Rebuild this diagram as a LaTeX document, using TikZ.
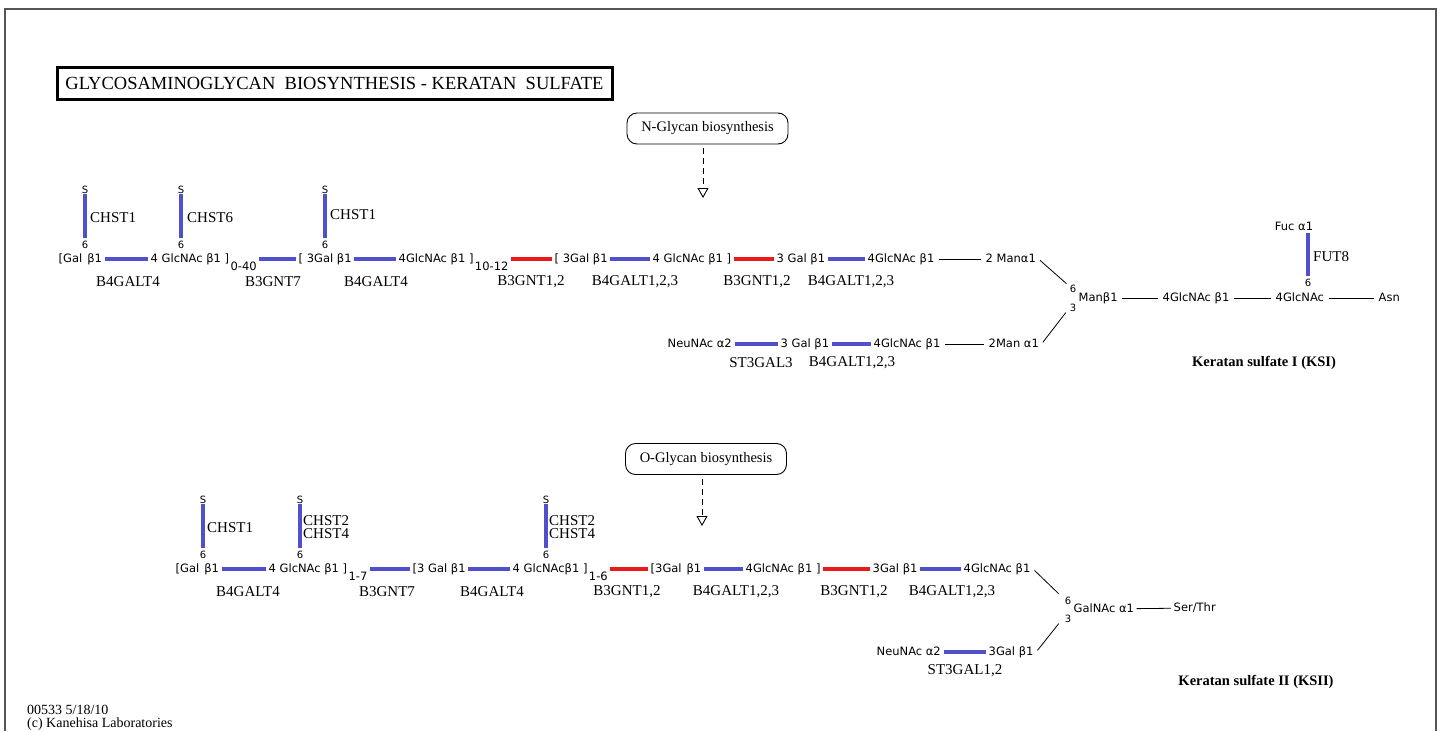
\documentclass[tikz,border=0pt]{standalone}
\usepackage{fontspec}
\setmainfont{Liberation Serif}
\newfontfamily\sugfam{DejaVu Sans}
\usetikzlibrary{arrows.meta}
\definecolor{kblue}{RGB}{80,80,205}
\definecolor{kred}{RGB}{235,25,25}
\definecolor{kframe}{RGB}{85,85,85}
\newcommand{\sugsize}{\sugfam\fontsize{11.5}{13}\selectfont}
\newcommand{\tinysize}{\sugfam\fontsize{10}{11}\selectfont}
\newcommand{\enzsize}{\fontsize{15}{16}\selectfont}
\newcommand{\boxsize}{\fontsize{14.5}{16}\selectfont}
\newcommand{\kssize}{\bfseries\fontsize{14.5}{16}\selectfont}
\newcommand{\lowsub}[1]{\hspace{1.5pt}\raisebox{-8pt}{#1}}
\tikzset{
  sugar/.style={font=\sugsize, inner xsep=2.5pt, inner ysep=0pt, text height=8.5pt, text depth=2.5pt, anchor=west},
  enz/.style={font=\enzsize, inner sep=0pt},
  chst/.style={font=\enzsize, inner sep=0pt, anchor=west, align=left},
  snode/.style={font=\tinysize, inner sep=0.3pt},
  sixnode/.style={font=\tinysize, inner xsep=0.5pt, inner ysep=3.5pt},
  posnode/.style={font=\tinysize, inner sep=0.5pt},
  bl/.style={draw=kblue, line width=4pt},
  rd/.style={draw=kred, line width=4pt},
  lk/.style={draw=black, line width=0.8pt, shorten <=2pt, shorten >=2pt},
  pbox/.style={draw, rounded corners=10pt, line width=0.9pt, minimum width=161pt, minimum height=31pt, font=\boxsize, inner sep=0pt},
  darr/.style={draw, line width=0.9pt, dash pattern=on 6pt off 4pt, shorten <=4pt, -{Triangle[open, length=10pt, width=11pt, line width=0.9pt]}},
  ks/.style={font=\kssize, inner sep=0pt},
  foot/.style={font=\fontsize{14}{12}\selectfont, inner sep=0pt, anchor=west}
}
\begin{document}
\begin{tikzpicture}[x=1pt, y=-1pt]
\useasboundingbox (0,0) rectangle (1443,731);
% frame
\draw[kframe, line width=2pt] (5,731) -- (5,9) -- (1436,9) -- (1436,731);
% title
\node[draw, line width=3pt, minimum width=555pt, minimum height=32pt, inner sep=0pt, font=\fontsize{18.5}{20}\selectfont] (title) at (334.5,83) {GLYCOSAMINOGLYCAN\ \ BIOSYNTHESIS - KERATAN\ \ SULFATE};

% ===== KS I =====
\node[pbox] (nbox) at (707.5,128.5) {N-Glycan biosynthesis};
\coordinate (narr) at (703,198);
\draw[darr] (nbox.south -| narr) -- (narr);

\node[sugar] (a1) at (56,259) {[Gal\hspace{5pt}β1};
\node[sugar] (a2) at (148,259) {4 GlcNAc β1 ]\lowsub{0-40}};
\node[sugar] (a3) at (296,259) {[ 3Gal β1};
\node[sugar] (a4) at (396,259) {4GlcNAc β1 ]\lowsub{10-12}};
\node[sugar] (a5) at (552,259) {[ 3Gal β1};
\node[sugar] (a6) at (650,259) {4 GlcNAc β1 ]};
\node[sugar] (a7) at (774,259) {3 Gal β1};
\node[sugar] (a8) at (865,259) {4GlcNAc β1};
\node[sugar] (a9) at (983,259) {2 Manα1};
\draw[bl] (a1) -- (a2);
\draw[bl] (a2) -- (a3);
\draw[bl] (a3) -- (a4);
\draw[rd] (a4) -- (a5);
\draw[bl] (a5) -- (a6);
\draw[rd] (a6) -- (a7);
\draw[bl] (a7) -- (a8);
\draw[lk] (a8) -- (a9);

% sulfation top
\node[snode] (s1) at (85,190) {S};
\node[sixnode] (x1) at (85,245) {6};
\node[snode] (s2) at (181,190) {S};
\node[sixnode] (x2) at (181,245) {6};
\node[snode] (s3) at (325,190) {S};
\node[sixnode] (x3) at (325,245) {6};
\draw[bl] (x1.north) -- (s1.south);
\draw[bl] (x2.north) -- (s2.south);
\draw[bl] (x3.north) -- (s3.south);
\node[chst] (e1) at (90,218) {CHST1};
\node[chst] (e2) at (187,218) {CHST6};
\node[chst] (e3) at (330,215) {CHST1};

% enzymes row 1
\node[enz] (f1) at (128,282) {B4GALT4};
\node[enz] (f2) at (273,282) {B3GNT7};
\node[enz] (f3) at (376,282) {B4GALT4};
\node[enz] (f4) at (531,282) {B3GNT1,2};
\node[enz] (f5) at (635,282) {B4GALT1,2,3};
\node[enz] (f6) at (757,282) {B3GNT1,2};
\node[enz] (f7) at (851,282) {B4GALT1,2,3};

% core
\node[sugar] (m1) at (1076,298) {Manβ1};
\node[posnode] (p6) at (1073,289) {6};
\node[posnode] (p3) at (1073,308) {3};
\coordinate (j1) at (1068,285);
\coordinate (j2) at (1067,311);
\draw[lk] (a9.east) -- (j1);
\node[sugar] (m2) at (1160,298) {4GlcNAc β1};
\node[sugar] (m3) at (1273,298) {4GlcNAc};
\node[sugar] (asn) at (1376,298) {Asn};
\draw[lk] (m1) -- (m2);
\draw[lk] (m2) -- (m3);
\draw[lk] (m3) -- (asn);
\node[sugar, anchor=center] (fuc) at (1294,227) {Fuc α1};
\node[sixnode] (x4) at (1308,283) {6};
\draw[bl] (x4.north) -- (x4.north |- fuc.south);
\node[chst] (e4) at (1313,257) {FUT8};

% NeuNAc branch
\node[sugar] (b1) at (665,344) {NeuNAc α2};
\node[sugar] (b2) at (778,344) {3 Gal β1};
\node[sugar] (b3) at (871,344) {4GlcNAc β1};
\node[sugar] (b4) at (986,344) {2Man α1};
\draw[bl] (b1) -- (b2);
\draw[bl] (b2) -- (b3);
\draw[lk] (b3) -- (b4);
\draw[lk] (b4.east) -- (j2);
\node[enz] (g1) at (761,363) {ST3GAL3};
\node[enz] (g2) at (852,363) {B4GALT1,2,3};
\node[ks] (ks1) at (1264,363) {Keratan sulfate I (KSI)};

% ===== KS II =====
\node[pbox] (obox) at (706,459) {O-Glycan biosynthesis};
\coordinate (oarr) at (702,526);
\draw[darr] (obox.south -| oarr) -- (oarr);

\node[sugar] (c1) at (173,569) {[Gal\hspace{5pt}β1};
\node[sugar] (c2) at (266,569) {4 GlcNAc β1 ]\lowsub{1-7}};
\node[sugar] (c3) at (410,569) {[3 Gal β1};
\node[sugar] (c4) at (510,569) {4 GlcNAcβ1 ]\lowsub{1-6}};
\node[sugar] (c5) at (648,569) {[3Gal\hspace{5pt}β1};
\node[sugar] (c6) at (743,569) {4GlcNAc β1 ]};
\node[sugar] (c7) at (870,569) {3Gal β1};
\node[sugar] (c8) at (961,569) {4GlcNAc β1};
\draw[bl] (c1) -- (c2);
\draw[bl] (c2) -- (c3);
\draw[bl] (c3) -- (c4);
\draw[rd] (c4) -- (c5);
\draw[bl] (c5) -- (c6);
\draw[rd] (c6) -- (c7);
\draw[bl] (c7) -- (c8);

\node[snode] (s5) at (203,500) {S};
\node[sixnode] (x5) at (203,555) {6};
\node[snode] (s6) at (300,500) {S};
\node[sixnode] (x6) at (300,555) {6};
\node[snode] (s7) at (546,500) {S};
\node[sixnode] (x7) at (546,555) {6};
\draw[bl] (x5.north) -- (s5.south);
\draw[bl] (x6.north) -- (s6.south);
\draw[bl] (x7.north) -- (s7.south);
\node[chst] (e5) at (207,528) {CHST1};
\node[chst] (e6) at (303,527) {CHST2\\[-3pt]CHST4};
\node[chst] (e7) at (549,527) {CHST2\\[-3pt]CHST4};

\node[enz] (h1) at (248,592) {B4GALT4};
\node[enz] (h2) at (387,592) {B3GNT7};
\node[enz] (h3) at (492,592) {B4GALT4};
\node[enz] (h4) at (627,592) {B3GNT1,2};
\node[enz] (h5) at (736,592) {B4GALT1,2,3};
\node[enz] (h6) at (854,592) {B3GNT1,2};
\node[enz] (h7) at (952,592) {B4GALT1,2,3};

\node[sugar] (k1) at (1071,609) {GalNAc α1};
\node[posnode] (q6) at (1068,601) {6};
\node[posnode] (q3) at (1068,619) {3};
\node[sugar] (ser) at (1171,608) {Ser/Thr};
\draw[lk, shorten <=0pt, shorten >=0pt] (k1) -- (ser);
\coordinate (j3) at (1060,595);
\coordinate (j4) at (1060,622);
\draw[lk] (c8.east) -- (j3);

\node[sugar] (d1) at (874,652) {NeuNAc α2};
\node[sugar] (d2) at (986,652) {3Gal β1};
\draw[bl] (d1) -- (d2);
\draw[lk] (d2.east) -- (j4);
\node[enz] (h8) at (965,671) {ST3GAL1,2};
\node[ks] (ks2) at (1256,682) {Keratan sulfate II (KSII)};

% footer
\node[foot] (ft1) at (27,710) {00533 5/18/10};
\node[foot] (ft2) at (27,724.5) {(c) Kanehisa Laboratories};
\end{tikzpicture}
\end{document}
